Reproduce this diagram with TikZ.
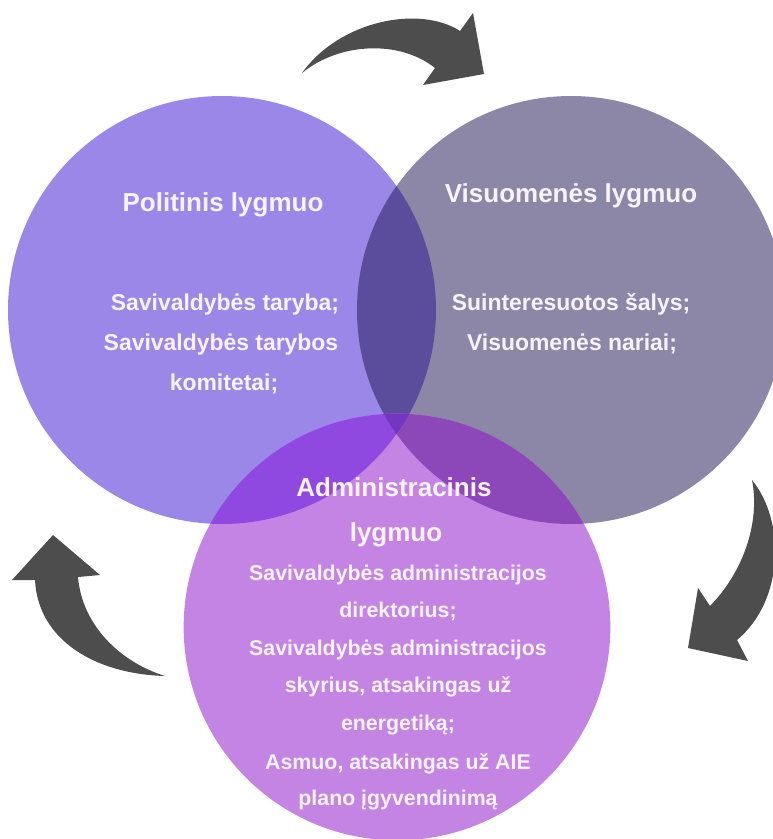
\documentclass[tikz,border=0pt]{standalone}
\usepackage{fontspec}
\setmainfont{Liberation Sans}
\definecolor{colL}{HTML}{9A87E8}
\definecolor{colR}{HTML}{8C86A7}
\definecolor{colLR}{HTML}{5B4C9C}
\definecolor{colB}{HTML}{C384E4}
\definecolor{colBL}{HTML}{9049E0}
\definecolor{colBR}{HTML}{8C48B9}
\definecolor{colBLR}{HTML}{7236C0}
\definecolor{arrowgrey}{HTML}{4D4D4D}
\definecolor{txt}{HTML}{F8F2FC}
\begin{document}
\begin{tikzpicture}[x=0.75pt,y=-0.75pt,
  ttl/.style={text=txt, font=\bfseries\fontsize{19.5pt}{22pt}\selectfont, anchor=base, inner sep=0pt},
  bodyA/.style={text=txt, font=\bfseries\fontsize{17.2pt}{20pt}\selectfont, anchor=base, inner sep=0pt},
  bodyB/.style={text=txt, font=\bfseries\fontsize{16pt}{19pt}\selectfont, anchor=base, inner sep=0pt},
  arrowshape/.style={fill=arrowgrey}]
\useasboundingbox (0,0) rectangle (772,839);
\def\pathL{(222,310) circle[radius=160.5pt]}
\def\pathR{(571,310) circle[radius=160.5pt]}
\def\pathB{(397,627) circle[radius=160pt]}
% circles
\fill[colL] \pathL;
\fill[colR] \pathR;
\begin{scope}\clip \pathL; \fill[colLR] \pathR; \end{scope}
\fill[colB] \pathB;
\begin{scope}\clip \pathB; \fill[colBL] \pathL; \end{scope}
\begin{scope}\clip \pathB; \fill[colBR] \pathR; \end{scope}
\begin{scope}\clip \pathB; \clip \pathL; \fill[colBLR] \pathR; \end{scope}
% arrows
\fill[arrowshape] (302,73) .. controls (340,20) and (420,5) .. (460,31)
  -- (473,13) -- (484,74) -- (423,85) -- (435,68)
  .. controls (400,40) and (340,42) .. (302,73) -- cycle;
\fill[arrowshape] (752,480) .. controls (785,520) and (785,600) .. (737,640)
  -- (748,661) -- (688,648) -- (698,588) -- (710,606)
  .. controls (745,570) and (760,520) .. (752,480) -- cycle;
\fill[arrowshape] (53,535) -- (100,575) -- (78,577)
  .. controls (82,625) and (120,662) .. (165,676)
  .. controls (95,674) and (38,640) .. (35,580) -- (12,580) -- cycle;
% texts
\node[ttl] (tL) at (223,211) {Politinis lygmuo};
\node[ttl] (tR) at (571,202) {Visuomenės lygmuo};
\node[bodyA] (l1) at (225,310) {Savivaldybės taryba;};
\node[bodyA] (l2) at (221,350) {Savivaldybės tarybos};
\node[bodyA] (l3) at (224,390) {komitetai;};
\node[bodyA] (r1) at (571,310) {Suinteresuotos šalys;};
\node[bodyA] (r2) at (572,350) {Visuomenės nariai;};
\node[ttl] (tB1) at (394,496) {Administracinis};
\node[ttl] (tB2) at (396,541) {lygmuo};
\node[bodyB] (b1) at (398,580) {Savivaldybės administracijos};
\node[bodyB] (b2) at (398,617) {direktorius;};
\node[bodyB] (b3) at (398,655) {Savivaldybės administracijos};
\node[bodyB] (b4) at (398,692) {skyrius, atsakingas už};
\node[bodyB] (b5) at (398,730) {energetiką;};
\node[bodyB] (b6) at (398,769) {Asmuo, atsakingas už AIE};
\node[bodyB] (b7) at (398,805) {plano įgyvendinimą};
\end{tikzpicture}
\end{document}
